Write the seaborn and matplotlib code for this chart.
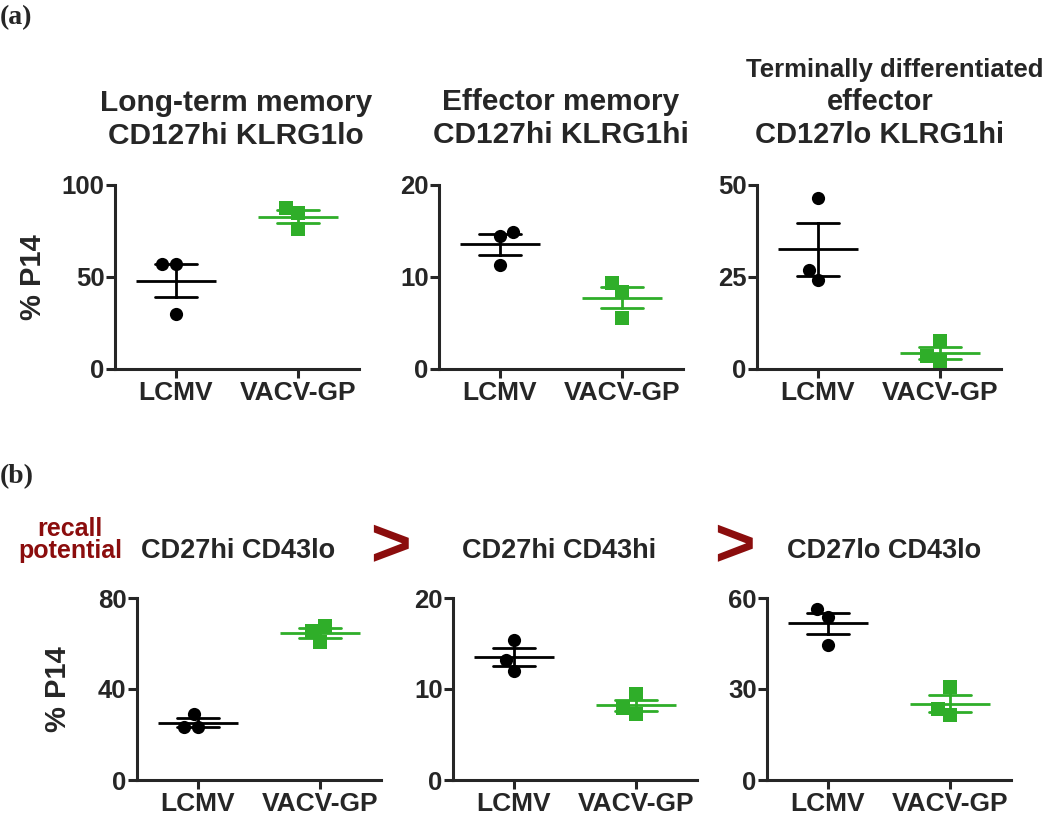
import pandas as pd
import numpy as np
import matplotlib
matplotlib.use('Agg')
from matplotlib import pyplot as plt
import seaborn as sns

sns.set_style('ticks')
plt.rcParams['font.family'] = ['Liberation Sans', 'DejaVu Sans']
plt.rcParams['font.weight'] = 'bold'
plt.rcParams['axes.labelweight'] = 'bold'

groups = ['LCMV', 'VACV-GP']
green = '#2fae29'
darkred = '#8b0d0d'
palette = {'LCMV': 'black', 'VACV-GP': green}

# (a) CD127 / KLRG1 subsets, % P14 (3 mice per group)
lt_mem_lcmv = [57.0, 57.2, 29.8]
lt_mem_vacv = [87.7, 84.6, 76.1]
eff_mem_lcmv = [14.9, 14.5, 11.3]
eff_mem_vacv = [9.4, 8.4, 5.5]
term_eff_lcmv = [46.6, 26.8, 24.1]
term_eff_vacv = [7.5, 3.4, 2.3]

# (b) CD27 / CD43 subsets, % P14
cd27hi43lo_lcmv = [28.9, 23.4, 23.3]
cd27hi43lo_vacv = [67.7, 65.4, 60.7]
cd27hi43hi_lcmv = [15.4, 13.2, 12.0]
cd27hi43hi_vacv = [9.4, 7.9, 7.3]
cd27lo43lo_lcmv = [56.5, 53.7, 44.6]
cd27lo43lo_vacv = [30.8, 23.3, 21.4]

a_ymax = [100, 20, 50]
a_yticks = [[0, 50, 100], [0, 10, 20], [0, 25, 50]]
b_ymax = [80, 20, 60]
b_yticks = [[0, 40, 80], [0, 10, 20], [0, 30, 60]]

W, H = 1050, 814
fig = plt.figure(figsize=(10.5, 8.14), dpi=100)


def px_axes(left, top, bottom, width=244):
    return fig.add_axes([left / W, 1 - bottom / H, width / W, (bottom - top) / H])


def panel(ax, lcmv, vacv, ymax, yticks):
    df = pd.DataFrame({'group': ['LCMV'] * len(lcmv) + ['VACV-GP'] * len(vacv),
                       'value': lcmv + vacv})
    sns.swarmplot(data=df[df.group == 'LCMV'], x='group', y='value', order=groups,
                  color='black', marker='o', size=9.5, ax=ax)
    sns.swarmplot(data=df[df.group == 'VACV-GP'], x='group', y='value', order=groups,
                  color=green, marker='s', size=9.5, ax=ax)
    # mean +/- SEM
    sns.pointplot(data=df, x='group', y='value', hue='group', order=groups,
                  hue_order=groups, palette=palette, errorbar='se', capsize=0.35,
                  marker='_', markersize=58, markeredgewidth=2, linestyle='none',
                  err_kws={'linewidth': 2}, legend=False, ax=ax)
    ax.set_xlim(-0.5, 1.5)
    ax.set_ylim(0, ymax)
    ax.set_yticks(yticks)
    ax.set_xlabel('')
    ax.set_ylabel('')
    sns.despine(ax=ax)
    for s in ['left', 'bottom']:
        ax.spines[s].set_linewidth(2.2)
    ax.tick_params(axis='x', width=2.2, length=6.5, labelsize=19, pad=2)
    ax.tick_params(axis='y', width=2.2, length=6.5, labelsize=18.5, pad=1)


# ---- row (a)
a_axes = [px_axes(115, 185, 369), px_axes(439, 185, 369), px_axes(757, 185, 369)]
a_data = [(lt_mem_lcmv, lt_mem_vacv), (eff_mem_lcmv, eff_mem_vacv),
          (term_eff_lcmv, term_eff_vacv)]
for ax, (l, v), ym, yt in zip(a_axes, a_data, a_ymax, a_yticks):
    panel(ax, l, v, ym, yt)

# ---- row (b)
b_axes = [px_axes(137, 598, 780), px_axes(453, 598, 780), px_axes(767, 598, 780)]
b_data = [(cd27hi43lo_lcmv, cd27hi43lo_vacv), (cd27hi43hi_lcmv, cd27hi43hi_vacv),
          (cd27lo43lo_lcmv, cd27lo43lo_vacv)]
for ax, (l, v), ym, yt in zip(b_axes, b_data, b_ymax, b_yticks):
    panel(ax, l, v, ym, yt)

a_axes[0].set_ylabel('% P14', fontsize=21, fontweight='bold')
a_axes[0].yaxis.set_label_coords(-0.279, 0.5)
b_axes[0].set_ylabel('% P14', fontsize=21, fontweight='bold')
b_axes[0].yaxis.set_label_coords(-0.266, 0.5)


def ftext(x, y, s, **kw):
    return fig.text(x / W, 1 - y / H, s, **kw)


# panel letters
ftext(0, 5, '(a)', family='Liberation Serif', fontsize=20, weight='bold', va='top')
ftext(0, 464, '(b)', family='Liberation Serif', fontsize=20, weight='bold', va='top')

# titles row (a), baselines in px
ftext(236, 111, 'Long-term memory', fontsize=21.5, ha='center', va='baseline')
ftext(236, 144, 'CD127hi KLRG1lo', fontsize=21.5, ha='center', va='baseline')
ftext(561, 110, 'Effector memory', fontsize=21.5, ha='center', va='baseline')
ftext(561, 143, 'CD127hi KLRG1hi', fontsize=21.5, ha='center', va='baseline')
ftext(895, 77, 'Terminally differentiated', fontsize=18.5, ha='center', va='baseline')
ftext(880, 110, 'effector', fontsize=21, ha='center', va='baseline')
ftext(880, 143, 'CD127lo KLRG1hi', fontsize=21, ha='center', va='baseline')

# titles row (b)
ftext(70, 536, 'recall', fontsize=18, color=darkred, ha='center', va='baseline')
ftext(70, 558, 'potential', fontsize=18, color=darkred, ha='center', va='baseline')
ftext(238, 558, 'CD27hi CD43lo', fontsize=19.5, ha='center', va='baseline')
ftext(559, 558, 'CD27hi CD43hi', fontsize=19.5, ha='center', va='baseline')
ftext(884, 558, 'CD27lo CD43lo', fontsize=19.5, ha='center', va='baseline')
ftext(390, 548, '>', fontsize=50, color=darkred, ha='center', va='center')
ftext(734, 548, '>', fontsize=50, color=darkred, ha='center', va='center')

fig.savefig('out.png', dpi=100)
plt.close()
